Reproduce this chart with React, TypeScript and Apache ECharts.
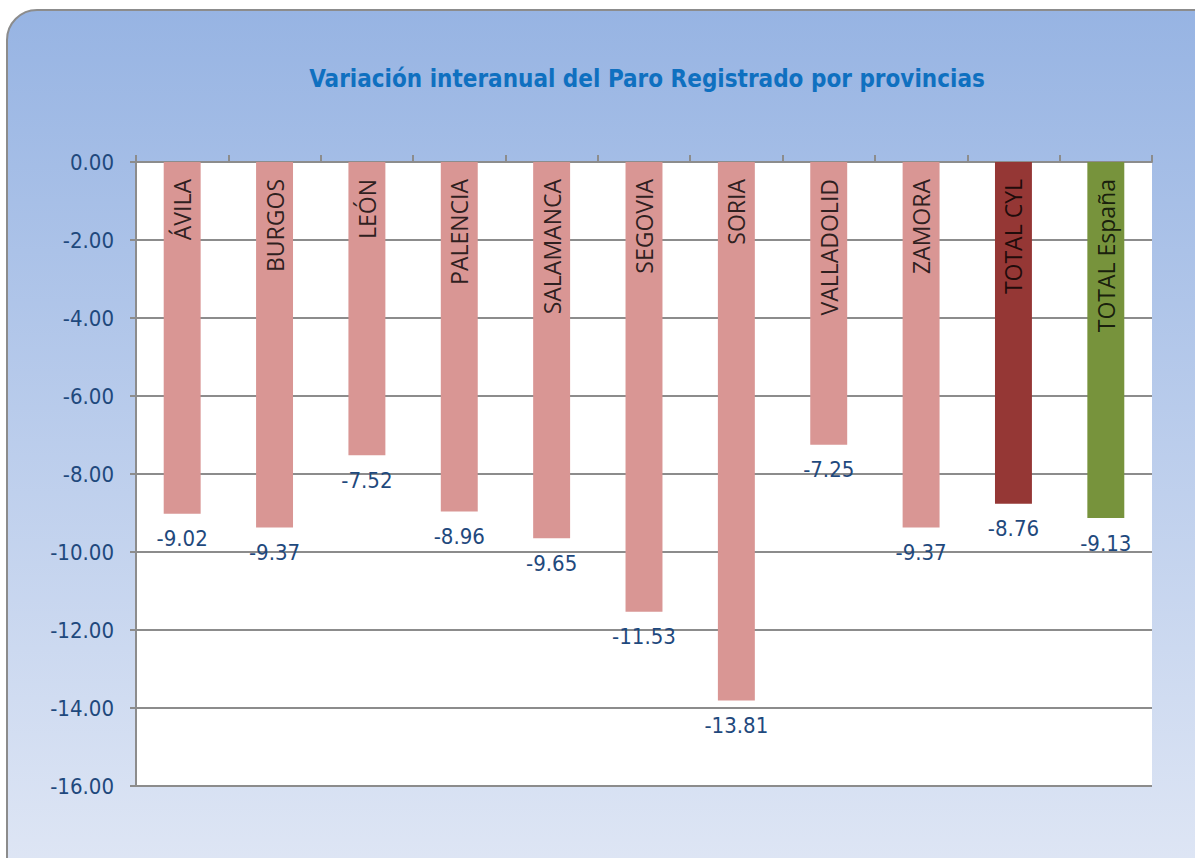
import React, { useEffect, useRef } from "react";
import * as echarts from "echarts";

const categories = ["ÁVILA", "BURGOS", "LEÓN", "PALENCIA", "SALAMANCA", "SEGOVIA", "SORIA", "VALLADOLID", "ZAMORA", "TOTAL CYL", "TOTAL España"];
const values = [-9.02, -9.37, -7.52, -8.96, -9.65, -11.53, -13.81, -7.25, -9.37, -8.76, -9.13];
const barColors = ["#d99694", "#d99694", "#d99694", "#d99694", "#d99694", "#d99694", "#d99694", "#d99694", "#d99694", "#953735", "#77933c"];
const titleText = "Variación interanual del Paro Registrado por provincias";

export default function App() {
  const ref = useRef<HTMLDivElement>(null);
  useEffect(() => {
    const chart = echarts.init(ref.current!, null, { renderer: "svg" });
    const numFont = "'DejaVu Sans Condensed', 'DejaVu Sans', sans-serif";
    chart.setOption({
      animation: false,
      graphic: [
        {
          type: "rect",
          z: -100,
          shape: { x: 7, y: 10, width: 1220, height: 880, r: 30 },
          style: {
            fill: new echarts.graphic.LinearGradient(0, 0, 0, 1, [
              { offset: 0, color: "#97b4e3" },
              { offset: 1, color: "#e0e7f5" },
            ]),
            stroke: "#8c8c8c",
            lineWidth: 2,
          },
        },
      ],
      title: {
        text: titleText,
        left: 642,
        top: 62,
        textAlign: "center",
        textStyle: { color: "#0f70c0", fontSize: 24, fontWeight: "bold", fontFamily: numFont },
      },
      grid: { left: 136, right: 43, top: 162, bottom: 72, show: true, backgroundColor: "#ffffff", borderWidth: 0 },
      xAxis: {
        type: "category",
        position: "top",
        data: categories,
        axisLine: { show: true, lineStyle: { color: "#8c8c8c", width: 2 } },
        axisTick: { show: true, interval: 0, length: 7, lineStyle: { color: "#8c8c8c", width: 2 } },
        axisLabel: { show: false, interval: 0 },
      },
      yAxis: {
        type: "value",
        min: -16,
        max: 0,
        interval: 2,
        axisLine: { show: true, lineStyle: { color: "#8c8c8c", width: 2 } },
        axisTick: { show: true, length: 6, lineStyle: { color: "#8c8c8c", width: 2 } },
        splitLine: { show: true, lineStyle: { color: "#8c8c8c", width: 2 } },
        axisLabel: {
          margin: 22,
          color: "#1f497d",
          fontSize: 22,
          fontFamily: numFont,
          formatter: (v: number) => v.toFixed(2),
        },
      },
      series: [
        {
          type: "bar",
          barWidth: "40%",
          silent: true,
          data: values.map((v, i) => ({ value: v, itemStyle: { color: barColors[i] } })),
          label: {
            show: true,
            position: "bottom",
            distance: 14,
            color: "#1f497d",
            fontSize: 22,
            fontFamily: numFont,
            formatter: (p: any) => p.value.toFixed(2),
          },
        },
        {
          type: "scatter",
          silent: true,
          symbolSize: 0,
          data: categories.map(() => 0),
          label: {
            show: true,
            position: [0, 17],
            rotate: 90,
            align: "right",
            verticalAlign: "middle",
            color: "#000000",
            fontSize: 23,
            fontFamily: "'Open Sans', sans-serif",
            formatter: (p: any) => categories[p.dataIndex],
          },
        },
      ],
    });
    return () => chart.dispose();
  }, []);
  return <div ref={ref} style={{ position: "absolute", left: 0, top: 0, width: 1195, height: 858 }} />;
}
